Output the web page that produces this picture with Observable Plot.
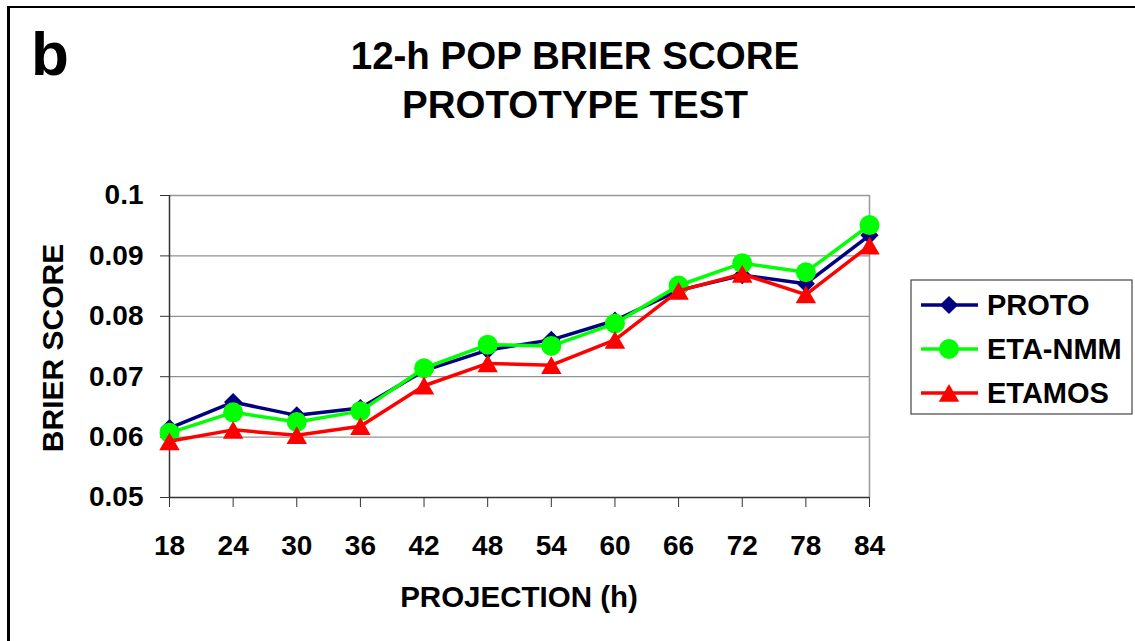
<!DOCTYPE html>
<html><head><meta charset="utf-8">
<script src="https://cdn.jsdelivr.net/npm/d3@7"></script>
<script src="https://cdn.jsdelivr.net/npm/@observablehq/plot@0.6"></script>
<style>
body{margin:0;background:#fff;}
#wrap{position:relative;width:1135px;height:641px;overflow:hidden;font-family:"Liberation Sans",Arial,sans-serif;font-weight:bold;color:#000;background:#fff;}
#wrap svg{position:absolute;left:0;top:0;}
.abs{position:absolute;white-space:nowrap;line-height:1;}
</style></head><body>
<div id="wrap"></div>
<script>
// ---- data ----
const categories = [18, 24, 30, 36, 42, 48, 54, 60, 66, 72, 78, 84];
const seriesNames = ["PROTO", "ETA-NMM", "ETAMOS"];
const proto  = [0.0615, 0.0658, 0.0636, 0.0648, 0.0710, 0.0744, 0.0761, 0.0793, 0.0843, 0.0868, 0.0854, 0.0934];
const etaNmm = [0.0607, 0.0641, 0.0625, 0.0643, 0.0714, 0.0753, 0.0751, 0.0788, 0.0851, 0.0888, 0.0873, 0.0951];
const etamos = [0.0593, 0.0612, 0.0603, 0.0618, 0.0685, 0.0722, 0.0719, 0.0761, 0.0842, 0.0870, 0.0836, 0.0917];
const yTicks = [0.05, 0.06, 0.07, 0.08, 0.09, 0.1];
const yTickLabels = ["0.05", "0.06", "0.07", "0.08", "0.09", "0.1"];
const xTickLabels = ["18", "24", "30", "36", "42", "48", "54", "60", "66", "72", "78", "84"];
const titleLines = ["12-h POP BRIER SCORE", "PROTOTYPE TEST"];
const panelLetter = "b";
const yLabel = "BRIER SCORE";
const xLabel = "PROJECTION (h)";

// ---- styles ----
const seriesValues = [proto, etaNmm, etamos];
const colors = ["#000080", "#00ff00", "#ff0000"];
const symbols = ["diamond2", "circle", "triangle"];
const radii = [8.2, 10, 7.6];
const dys = [0, 0, 2.9];
const FONT = '"Liberation Sans", Arial, sans-serif';

const wrap = document.getElementById("wrap");

const seriesMarks = seriesValues.flatMap((vals, s) => [
  Plot.line(categories, {x: d => d, y: (d, i) => vals[i], stroke: colors[s], strokeWidth: 3.5, strokeLinejoin: "round"}),
  Plot.dot(categories, {x: d => d, y: (d, i) => vals[i], symbol: symbols[s], fill: colors[s], stroke: "none", r: radii[s], dy: dys[s]})
]);

const chart = Plot.plot({
  width: 1135, height: 641,
  marginLeft: 169, marginRight: 266, marginTop: 195, marginBottom: 144,
  x: {type: "linear", domain: [18, 84]},
  y: {domain: [0.05, 0.1]},
  style: {fontFamily: FONT, fontWeight: "bold", fontSize: "28px", background: "transparent", color: "#000", overflow: "visible"},
  marks: [
    Plot.gridY(yTicks.slice(1, -1), {stroke: "#777", strokeOpacity: 1, strokeWidth: 1}),
    Plot.ruleY([0.1], {stroke: "#999", strokeWidth: 1.5}),
    Plot.ruleX([84], {stroke: "#999", strokeWidth: 1.5}),
    Plot.axisY(yTicks, {tickSize: 9, tickPadding: 17, tickFormat: d => yTickLabels[yTicks.indexOf(d)], fontSize: 28, fontWeight: "bold", stroke: "#333", fill: "#000", label: null}),
    Plot.axisX(categories, {tickSize: 10, tickPadding: 27.5, tickFormat: d => xTickLabels[categories.indexOf(d)], fontSize: 28, fontWeight: "bold", stroke: "#333", fill: "#000", label: null}),
    Plot.ruleX([18], {stroke: "#333", strokeWidth: 1.5}),
    Plot.ruleY([0.05], {stroke: "#333", strokeWidth: 1.5}),
    ...seriesMarks
  ]
});
wrap.appendChild(chart);

// frame
const frame = document.createElement("div");
frame.style.cssText = "position:absolute;left:7px;top:6px;width:1300px;height:800px;border-left:3px solid #000;border-top:2.5px solid #000;";
wrap.appendChild(frame);

function addText(txt, css) {
  const d = document.createElement("div");
  d.className = "abs";
  d.textContent = txt;
  d.style.cssText += css;
  wrap.appendChild(d);
  return d;
}
// panel letter
addText(panelLetter, "left:31px;top:22.5px;font-size:62px;");
// title
const t = document.createElement("div");
t.style.cssText = "position:absolute;left:275px;top:30.5px;width:600px;text-align:center;font-size:38.5px;line-height:49px;";
titleLines.forEach(l => { const s = document.createElement("div"); s.textContent = l; t.appendChild(s); });
wrap.appendChild(t);
// y label
addText(yLabel, "left:" + (53.3 - 150) + "px;top:" + (347.5 - 15) + "px;width:300px;height:30px;text-align:center;font-size:30px;transform:rotate(-90deg);transform-origin:50% 50%;");
// x label
addText(xLabel, "left:219px;top:582px;width:600px;text-align:center;font-size:29.5px;");

// legend
const lg = d3.create("svg").attr("width", 224).attr("height", 137)
  .style("left", "910px").style("top", "279px").style("overflow", "visible");
lg.append("rect").attr("x", 1).attr("y", 1).attr("width", 221).attr("height", 134)
  .attr("fill", "#fff").attr("stroke", "#444").attr("stroke-width", 1.2);
const symMap = {diamond2: d3.symbolDiamond2, circle: d3.symbolCircle, triangle: d3.symbolTriangle};
seriesNames.forEach((name, s) => {
  const cy = 26 + s * 44;
  lg.append("line").attr("x1", 11).attr("x2", 68).attr("y1", cy).attr("y2", cy)
    .attr("stroke", colors[s]).attr("stroke-width", 3.5);
  lg.append("path").attr("d", d3.symbol(symMap[symbols[s]], Math.PI * radii[s] * radii[s])())
    .attr("transform", `translate(39,${cy + dys[s]})`).attr("fill", colors[s]);
  lg.append("text").attr("x", 77).attr("y", cy + 10).text(name)
    .attr("font-family", FONT).attr("font-weight", "bold").attr("font-size", 29).attr("fill", "#000");
});
wrap.appendChild(lg.node());
</script>
</body></html>
